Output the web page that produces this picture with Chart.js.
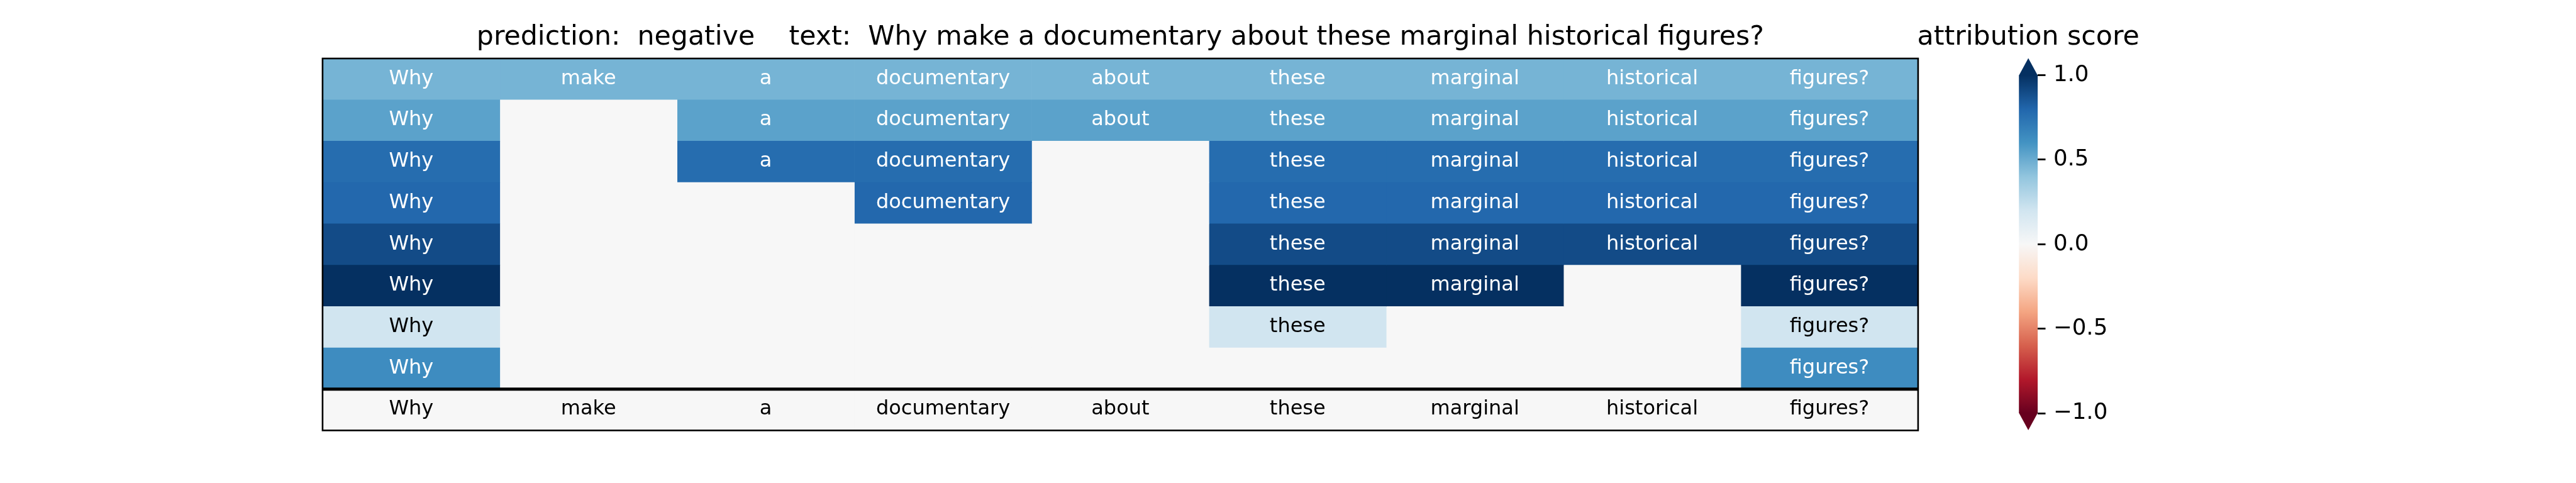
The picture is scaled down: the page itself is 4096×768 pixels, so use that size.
<!DOCTYPE html>
<html>
<head>
<meta charset="utf-8">
<script src="https://cdn.jsdelivr.net/npm/chart.js@4.4.0/dist/chart.umd.min.js"></script>
<style>
html,body{margin:0;padding:0;background:#ffffff;overflow:hidden}
#wrap{position:relative;width:4096px;height:768px;background:#ffffff}
canvas{position:absolute;left:0;top:0}
</style>
</head>
<body>
<div id="wrap">
<canvas id="heat" width="4096" height="768"></canvas>
<canvas id="cbar" width="4096" height="768"></canvas>
</div>
<script>
// ---------------- data ----------------
const tokens = ['Why', 'make', 'a', 'documentary', 'about', 'these', 'marginal', 'historical', 'figures?'];
// attribution score of each kept token per level (null = token removed)
const level1 = [0.47, 0.47, 0.47, 0.47, 0.47, 0.47, 0.47, 0.47, 0.47];
const level2 = [0.54, null, 0.54, 0.54, 0.54, 0.54, 0.54, 0.54, 0.54];
const level3 = [0.77, null, 0.77, 0.77, null, 0.77, 0.77, 0.77, 0.77];
const level4 = [0.79, null, null, 0.79, null, 0.79, 0.79, 0.79, 0.79];
const level5 = [0.90, null, null, null, null, 0.90, 0.90, 0.90, 0.90];
const level6 = [1.00, null, null, null, null, 1.00, 1.00, null, 1.00];
const level7 = [0.20, null, null, null, null, 0.20, null, null, 0.20];
const level8 = [0.63, null, null, null, null, null, null, null, 0.63];
const original = [0, 0, 0, 0, 0, 0, 0, 0, 0];
const rowNames = ['level 1', 'level 2', 'level 3', 'level 4', 'level 5', 'level 6', 'level 7', 'level 8', 'text'];
const prediction = 'negative';
const colorbarTicks = [-1.0, -0.5, 0.0, 0.5, 1.0];
const colorbarMin = -1.0;
const colorbarMax = 1.0;
const colorbarLabel = 'attribution score';

const rows = [level1, level2, level3, level4, level5, level6, level7, level8, original];
const titleText = 'prediction:  ' + prediction + '    text:  ' + tokens.join(' ');

// ---------------- colormap (RdBu) ----------------
const RDBU = ['#67001f', '#b2182b', '#d6604d', '#f4a582', '#fddbc7', '#f7f7f7',
              '#d1e5f0', '#92c5de', '#4393c3', '#2166ac', '#053061'];
function hexToRgb(h) { return [parseInt(h.slice(1, 3), 16), parseInt(h.slice(3, 5), 16), parseInt(h.slice(5, 7), 16)]; }
const RDBU_RGB = RDBU.map(hexToRgb);
function rdbu(v) {
  let t = (v - colorbarMin) / (colorbarMax - colorbarMin);
  t = Math.max(0, Math.min(1, t));
  const p = t * (RDBU_RGB.length - 1);
  const i = Math.min(Math.floor(p), RDBU_RGB.length - 2);
  const f = p - i;
  const a = RDBU_RGB[i], b = RDBU_RGB[i + 1];
  const c = a.map((x, k) => Math.round(x + (b[k] - x) * f));
  return 'rgb(' + c.join(',') + ')';
}

// ---------------- layout (px, already scaled 0.853) ----------------
const FONT = 'DejaVu Sans';
Chart.defaults.font.family = FONT;
const W = 4096, H = 768;
const AREA = { left: 512.9, right: 3049.9, top: 93.0, bottom: 684.4 };
const CB = { left: 3210.2, right: 3240.1, top: 119.5, bottom: 657.1 };
const CB_AXIS_W = 200;
const TITLE_SIZE = 42.7, CELL_SIZE = 32, TICK_SIZE = 35.6;
const TITLE_BASELINE = 70.8;

// ---------------- heatmap (stacked horizontal bars) ----------------
const datasets = tokens.map((tok, j) => ({
  label: tok,
  data: rows.map(() => 1),
  backgroundColor: rows.map(r => rdbu(r[j] === null ? 0 : r[j])),
  borderWidth: 0,
  barPercentage: 1,
  categoryPercentage: 1
}));

const heatPlugin = {
  id: 'heatText',
  afterDatasetsDraw(chart) {
    const ctx = chart.ctx;
    const a = chart.chartArea;
    ctx.save();
    ctx.font = CELL_SIZE + 'px "' + FONT + '"';
    ctx.textAlign = 'center';
    ctx.textBaseline = 'alphabetic';
    chart.data.datasets.forEach((ds, j) => {
      const meta = chart.getDatasetMeta(j);
      meta.data.forEach((el, i) => {
        const v = rows[i][j];
        if (v === null) return;
        const cx = (el.x + el.base) / 2;
        ctx.fillStyle = Math.abs(v) > 0.3 ? '#ffffff' : '#000000';
        ctx.fillText(tokens[j], cx, el.y + 0.246 * CELL_SIZE);
      });
    });
    // separator between explanation levels and the original text row
    const ys = chart.scales.y;
    const ySep = (ys.getPixelForValue(rows.length - 2) + ys.getPixelForValue(rows.length - 1)) / 2;
    ctx.strokeStyle = '#000000';
    ctx.lineWidth = 4.9;
    ctx.beginPath();
    ctx.moveTo(a.left, ySep);
    ctx.lineTo(a.right, ySep);
    ctx.stroke();
    // frame
    ctx.lineWidth = 2.6;
    ctx.strokeRect(a.left, a.top, a.right - a.left, a.bottom - a.top);
    // title
    ctx.fillStyle = '#000000';
    ctx.font = TITLE_SIZE + 'px "' + FONT + '"';
    ctx.textAlign = 'center';
    ctx.fillText(titleText, (a.left + a.right) / 2, TITLE_BASELINE);
    ctx.restore();
  }
};

new Chart(document.getElementById('heat'), {
  type: 'bar',
  data: { labels: rowNames, datasets: datasets },
  options: {
    indexAxis: 'y',
    responsive: false,
    animation: false,
    devicePixelRatio: 1,
    layout: { padding: { left: AREA.left, right: W - AREA.right, top: AREA.top, bottom: H - AREA.bottom } },
    plugins: { legend: { display: false }, tooltip: { enabled: false }, title: { display: false } },
    scales: {
      x: { type: 'linear', stacked: true, min: 0, max: tokens.length, display: false },
      y: { type: 'category', stacked: true, display: false }
    }
  },
  plugins: [heatPlugin]
});

// ---------------- colorbar ----------------
function fmtTick(v) {
  const s = Number(v).toFixed(1);
  return s.replace('-', '\u2212');
}

const cbPlugin = {
  id: 'cbExtras',
  afterDatasetsDraw(chart) {
    const ctx = chart.ctx;
    const a = chart.chartArea;
    const ys = chart.scales.y;
    const top = ys.getPixelForValue(colorbarMax);
    const bot = ys.getPixelForValue(colorbarMin);
    const ext = 0.05 * (bot - top);
    const cx = (a.left + a.right) / 2;
    ctx.save();
    ctx.fillStyle = rdbu(colorbarMax);
    ctx.beginPath();
    ctx.moveTo(a.left, top + 0.5);
    ctx.lineTo(a.right, top + 0.5);
    ctx.lineTo(cx, top - ext);
    ctx.closePath();
    ctx.fill();
    ctx.fillStyle = rdbu(colorbarMin);
    ctx.beginPath();
    ctx.moveTo(a.left, bot - 0.5);
    ctx.lineTo(a.right, bot - 0.5);
    ctx.lineTo(cx, bot + ext);
    ctx.closePath();
    ctx.fill();
    // colorbar title
    ctx.fillStyle = '#000000';
    ctx.font = TITLE_SIZE + 'px "' + FONT + '"';
    ctx.textAlign = 'center';
    ctx.textBaseline = 'alphabetic';
    ctx.fillText(colorbarLabel, cx, TITLE_BASELINE);
    ctx.restore();
  }
};

new Chart(document.getElementById('cbar'), {
  type: 'bar',
  data: {
    labels: [colorbarLabel],
    datasets: [{
      data: [[colorbarMin, colorbarMax]],
      backgroundColor: (c) => {
        const chart = c.chart;
        const ys = chart.scales.y;
        if (!chart.chartArea || !ys) return RDBU[5];
        const g = chart.ctx.createLinearGradient(0, ys.getPixelForValue(colorbarMin), 0, ys.getPixelForValue(colorbarMax));
        RDBU.forEach((col, k) => g.addColorStop(k / (RDBU.length - 1), col));
        return g;
      },
      borderWidth: 0,
      barPercentage: 1,
      categoryPercentage: 1
    }]
  },
  options: {
    responsive: false,
    animation: false,
    devicePixelRatio: 1,
    layout: { padding: { left: CB.left, right: W - CB.right - CB_AXIS_W, top: CB.top, bottom: H - CB.bottom } },
    plugins: { legend: { display: false }, tooltip: { enabled: false }, title: { display: false } },
    scales: {
      x: { display: false },
      y: {
        position: 'right',
        min: colorbarMin,
        max: colorbarMax,
        afterFit(s) { s.width = CB_AXIS_W; },
        afterBuildTicks(s) { s.ticks = colorbarTicks.map(v => ({ value: v })); },
        ticks: { callback: (v) => fmtTick(v), font: { family: FONT, size: TICK_SIZE }, color: '#000000', padding: 12.4 },
        grid: { display: true, drawOnChartArea: false, drawTicks: true, tickLength: 12.4, tickWidth: 2.8, tickColor: '#000000' },
        border: { display: false }
      }
    }
  },
  plugins: [cbPlugin]
});
</script>
</body>
</html>
